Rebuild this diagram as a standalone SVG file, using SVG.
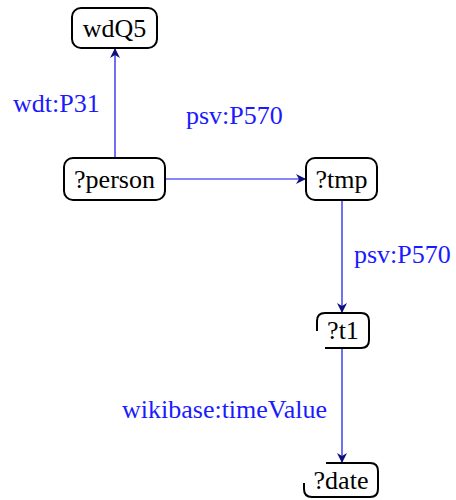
<svg xmlns="http://www.w3.org/2000/svg" width="456" height="500" viewBox="0 0 456 500">
  <style>
    .box { fill: #ffffff; stroke: #000000; stroke-width: 2; }
    .part { fill: none; stroke: #000000; stroke-width: 2; }
    .name { font-family: "Liberation Serif", "Times New Roman", serif; font-size: 26px; fill: #000000; text-anchor: middle; }
    .edge { fill: none; stroke: #1010f0; stroke-width: 1.2; }
    .label { font-family: "Liberation Serif", "Times New Roman", serif; font-size: 26px; fill: #1a1aff; }
  </style>
  <defs>
    <marker id="tip" viewBox="0 0 10 10" refX="9" refY="5" markerWidth="10" markerHeight="10" markerUnits="userSpaceOnUse" orient="auto">
      <path d="M0,0 L10,5 L0,10 L3,5 Z" fill="#10107a"/>
    </marker>
  </defs>

  <g id="connectors">
    <line class="edge" x1="115" y1="158" x2="115" y2="49" marker-end="url(#tip)"/>
    <line class="edge" x1="165" y1="179" x2="305" y2="179" marker-end="url(#tip)"/>
    <line class="edge" x1="342" y1="200" x2="342" y2="312" marker-end="url(#tip)"/>
    <line class="edge" x1="342" y1="348" x2="342" y2="462" marker-end="url(#tip)"/>
    <text class="label" x="13" y="112">wdt:P31</text>
    <text class="label" x="186" y="124">psv:P570</text>
    <text class="label" x="354" y="263">psv:P570</text>
    <text class="label" x="122" y="418">wikibase:timeValue</text>
  </g>

  <g id="wdQ5">
    <rect class="box" x="72" y="8" width="85" height="40" rx="9"/>
    <text class="name" x="114.5" y="37">wdQ5</text>
  </g>

  <g id="person">
    <rect class="box" x="64" y="158" width="101" height="42" rx="9"/>
    <text class="name" x="114.5" y="188">?person</text>
  </g>

  <g id="tmp">
    <rect class="box" x="306" y="158" width="71" height="42" rx="9"/>
    <text class="name" x="341.5" y="188">?tmp</text>
  </g>

  <g id="t1">
    <path class="part" d="M317,331 L317,321 Q317,313 325,313 L361,313 Q369,313 369,321 L369,340 Q369,348 361,348 L325,348"/>
    <text class="name" x="343" y="339">?t1</text>
  </g>

  <g id="date">
    <path class="part" d="M326,463 L370,463 Q378,463 378,471 L378,489 Q378,497 370,497 L312,497 Q304,497 304,489 L304,483"/>
    <text class="name" x="341" y="489">?date</text>
  </g>
</svg>
